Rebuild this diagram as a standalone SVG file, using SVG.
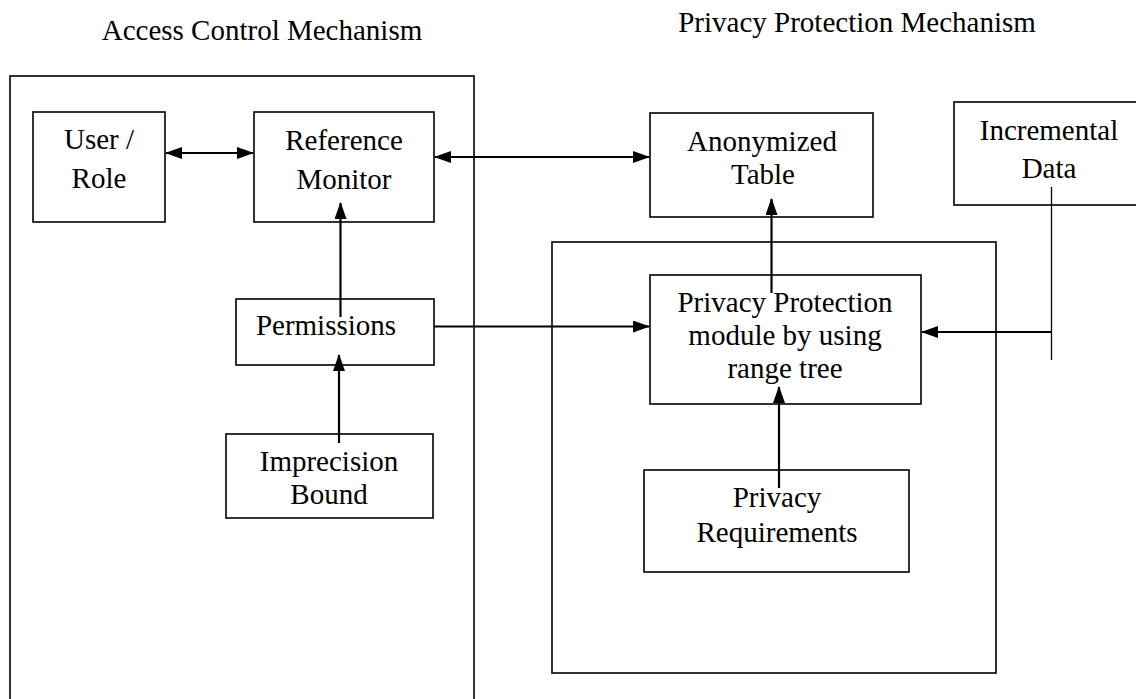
<svg xmlns="http://www.w3.org/2000/svg" width="1136" height="699" viewBox="0 0 1136 699">
<style>
  .box{fill:none;stroke:#000;stroke-width:1.6}
  .t{font-family:"Liberation Serif","Times New Roman",serif;font-size:29px;fill:#000;text-anchor:middle}
  .c{fill:none;stroke:#000;stroke-width:2.2}
  .thin{fill:none;stroke:#000;stroke-width:1.3}
</style>
<defs>
  <marker id="ah" viewBox="0 0 17 12" markerWidth="17" markerHeight="12" refX="16" refY="6" orient="auto-start-reverse" markerUnits="userSpaceOnUse">
    <path d="M0,0 L17,6 L0,12 z" fill="#000"/>
  </marker>
</defs>
<rect width="1136" height="699" fill="#fff"/>

<g id="title-access"><text class="t" x="262" y="40">Access Control Mechanism</text></g>
<g id="title-privacy"><text class="t" x="857" y="32">Privacy Protection Mechanism</text></g>

<g id="access-control-container"><rect class="box" x="10" y="76" width="464" height="640"/></g>
<g id="privacy-container"><rect class="box" x="552" y="242" width="444" height="431"/></g>

<g id="user-role">
  <rect class="box" x="33" y="112" width="132" height="110"/>
  <text class="t" x="99" y="149">User /</text>
  <text class="t" x="99" y="188">Role</text>
</g>
<g id="reference-monitor">
  <rect class="box" x="254" y="112" width="180" height="110"/>
  <text class="t" x="344" y="150">Reference</text>
  <text class="t" x="344" y="189">Monitor</text>
</g>
<g id="permissions">
  <rect class="box" x="236" y="299" width="198" height="66"/>
  <text class="t" x="326" y="335">Permissions</text>
</g>
<g id="imprecision-bound">
  <rect class="box" x="226" y="434" width="207" height="84"/>
  <text class="t" x="329" y="471">Imprecision</text>
  <text class="t" x="329" y="504">Bound</text>
</g>
<g id="anonymized-table">
  <rect class="box" x="650" y="113" width="223" height="104"/>
  <text class="t" x="762" y="151">Anonymized</text>
  <text class="t" x="763" y="184">Table</text>
</g>
<g id="incremental-data">
  <rect class="box" x="954" y="102" width="200" height="103"/>
  <text class="t" x="1049" y="140">Incremental</text>
  <text class="t" x="1049" y="178">Data</text>
</g>
<g id="privacy-module">
  <rect class="box" x="650" y="275" width="271" height="129"/>
  <text class="t" x="785" y="312">Privacy Protection</text>
  <text class="t" x="785" y="345">module by using</text>
  <text class="t" x="785" y="378">range tree</text>
</g>
<g id="privacy-requirements">
  <rect class="box" x="644" y="470" width="265" height="102"/>
  <text class="t" x="777" y="507">Privacy</text>
  <text class="t" x="777" y="542">Requirements</text>
</g>

<g id="connectors">
  <line class="c" x1="166" y1="153" x2="253" y2="153" marker-start="url(#ah)" marker-end="url(#ah)"/>
  <line class="c" x1="435" y1="157" x2="649" y2="157" marker-start="url(#ah)" marker-end="url(#ah)"/>
  <line class="c" x1="340.5" y1="317" x2="340.5" y2="203" marker-end="url(#ah)"/>
  <line class="c" x1="339" y1="443" x2="339" y2="355" marker-end="url(#ah)"/>
  <line class="c" x1="434" y1="326.5" x2="649" y2="326.5" marker-end="url(#ah)"/>
  <line class="c" x1="771.5" y1="293" x2="771.5" y2="199" marker-end="url(#ah)"/>
  <line class="c" x1="779" y1="488" x2="779" y2="387" marker-end="url(#ah)"/>
  <line class="thin" x1="1051.5" y1="187" x2="1051.5" y2="360"/>
  <line class="c" x1="1051.5" y1="332" x2="922" y2="332" marker-end="url(#ah)"/>
</g>
</svg>
